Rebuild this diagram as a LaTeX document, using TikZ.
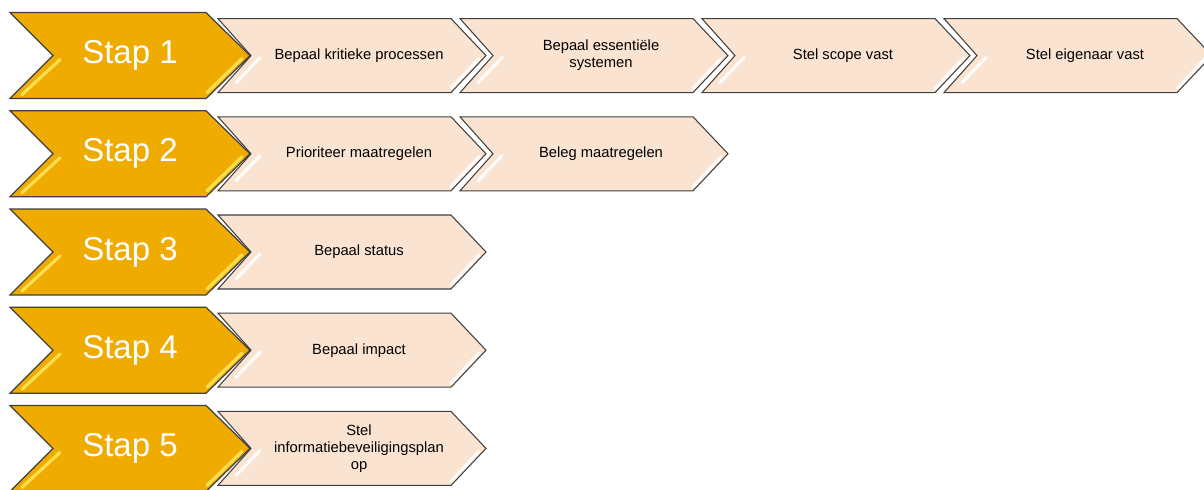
\documentclass[tikz,border=0pt]{standalone}
\usepackage{fontspec}
\setmainfont{Liberation Sans}
\usetikzlibrary{calc}
\definecolor{StapClr}{RGB}{240,171,0}
\definecolor{TaskClr}{RGB}{250,228,209}
\definecolor{GlossClr}{RGB}{255,228,90}

\tikzset{
  stapshape/.style={fill=StapClr,draw=black!75,line width=0.7pt,line join=miter},
  taskshape/.style={fill=TaskClr,draw=black!75,line width=0.6pt,line join=miter},
  stapgloss/.style={draw=GlossClr,line width=1.8pt,line cap=round,opacity=0.9},
  taskgloss/.style={draw=white,line width=1.8pt,line cap=round,opacity=0.9},
  staplabel/.style={text=white,font=\fontsize{18.8}{21}\selectfont},
  tasklabel/.style={align=center,font=\fontsize{8.4}{9.6}\selectfont}
}

\begin{document}
\begin{tikzpicture}[x=0.02cm,y=-0.02cm]
\useasboundingbox (0,0) rectangle (1204,490);

% taken per rij/kolom
\foreach \r/\c/\t in {1/1/{Bepaal kritieke processen},1/2/{Bepaal essentiële\\systemen},
    1/3/{Stel scope vast},1/4/{Stel eigenaar vast},
    2/1/{Prioriteer maatregelen},2/2/{Beleg maatregelen},
    3/1/{Bepaal status},4/1/{Bepaal impact},
    5/1/{Stel\\informatiebeveiligingsplan\\op}}{
  \pgfmathsetmacro{\cy}{55.6+98.2*(\r-1)}
  \pgfmathsetmacro{\lx}{218+242*(\c-1)}
  \draw[taskshape] (\lx,\cy-37) -- (\lx+233,\cy-37) -- (\lx+268,\cy) -- (\lx+233,\cy+37)
    -- (\lx,\cy+37) -- (\lx+33,\cy) -- cycle;
  \draw[taskgloss] (\lx+42,\cy+2) -- (\lx+18,\cy+27);
  \draw[taskgloss] (\lx+261,\cy+3) -- (\lx+233,\cy+33);
  \node[tasklabel] (task\r\c) at (\lx+141,\cy) {\t};
}

% stappen
\foreach \i in {1,...,5}{
  \pgfmathsetmacro{\cy}{55.6+98.2*(\i-1)}
  \draw[stapshape] (10,\cy-43) -- (206,\cy-43) -- (250,\cy) -- (206,\cy+43)
    -- (10,\cy+43) -- (53,\cy) -- cycle;
  \draw[stapgloss] (60,\cy+4) -- (22,\cy+39);
  \draw[stapgloss] (242,\cy+3) -- (207,\cy+37);
  \node[staplabel] (stap\i) at (130,\cy) {Stap \i};
}

\end{tikzpicture}
\end{document}
